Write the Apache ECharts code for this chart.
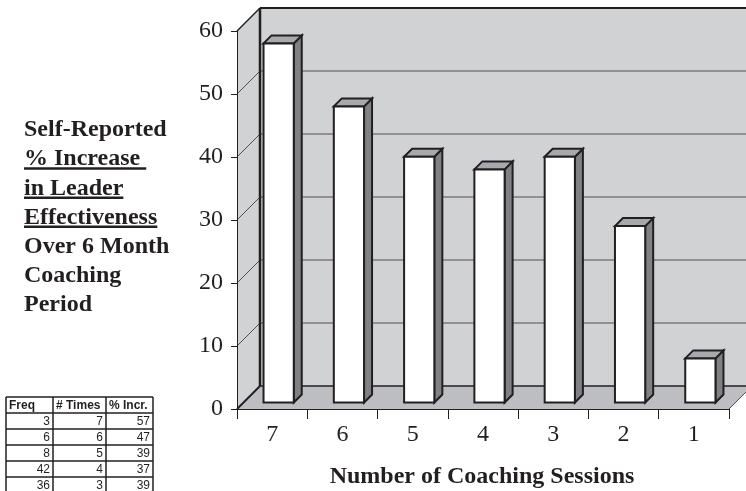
<!DOCTYPE html>
<html>
<head>
<meta charset="utf-8">
<script src="https://cdn.jsdelivr.net/npm/echarts@6/dist/echarts.min.js"></script>
<style>
html,body{margin:0;padding:0;background:#fff;}
#chart{width:746px;height:491px;}
</style>
</head>
<body>
<div id="chart"></div>
<script>
// ---- data ----
const categories = ['7', '6', '5', '4', '3', '2', '1'];
const increaseValues = [57, 47, 39, 37, 39, 28, 7];
const yMin = 0, yMax = 60, yInterval = 10;
const xAxisTitle = 'Number of Coaching Sessions';
const sideTitleLines = ['Self-Reported', '% Increase ', 'in Leader', 'Effectiveness', 'Over 6 Month', 'Coaching', 'Period'];
const underlinedLines = [1, 2, 3];
const tableHeader = ['Freq', '# Times', '% Incr.'];
const tableFreq = [3, 6, 8, 42, 36];
const tableTimes = [7, 6, 5, 4, 3];
const tableIncr = [57, 47, 39, 37, 39];

// ---- styles ----
const INK = '#231f20';
const WALL = '#d1d2d4';
const FLOOR = '#bdbec1';
const BAR_FRONT = '#ffffff';
const BAR_SIDE = '#808184';
const BAR_TOP = '#a7a9ac';
const DEPTH = 23;      // wall depth offset in px
const BAR_D1 = 6.5;    // front face depth
const BAR_D2 = 8;      // bar thickness (depth)
const SERIF = '"Liberation Serif", "Times New Roman", serif';

const chart = echarts.init(document.getElementById('chart'), null, {renderer: 'canvas'});

function measure(text, font) {
  const c = document.createElement('canvas').getContext('2d');
  c.font = font;
  return c.measureText(text).width;
}

// side title graphics
const graphics = [];
const titleFont = 'bold 24px ' + SERIF;
const titleX = 24, titleBase0 = 136, titleStep = 29.2;
sideTitleLines.forEach((t, i) => {
  const base = titleBase0 + i * titleStep;
  graphics.push({
    type: 'text', left: titleX, top: base - 18,
    style: {text: t, font: titleFont, fill: INK}
  });
  if (underlinedLines.indexOf(i) >= 0) {
    const w = measure(t, titleFont);
    graphics.push({
      type: 'rect', shape: {x: titleX, y: base + 2, width: w, height: 2.5},
      style: {fill: INK}
    });
  }
});

// x axis title
graphics.push({
  type: 'text', x: 482, y: 477,
  style: {text: xAxisTitle, font: titleFont, fill: INK, align: 'center', verticalAlign: 'middle'}
});

// data table
const colX = [6, 53, 106, 153];
const rowTop = 397, headH = 16, rowH = 16;
const tblChildren = [];
const nRows = tableFreq.length;
const tblBottom = rowTop + headH + rowH * nRows;
tblChildren.push({type: 'rect', shape: {x: colX[0], y: rowTop, width: colX[3] - colX[0], height: tblBottom - rowTop}, style: {fill: '#fff'}});
for (let r = 0; r <= nRows + 1; r++) {
  const y = r === 0 ? rowTop : rowTop + headH + rowH * (r - 1);
  tblChildren.push({type: 'line', shape: {x1: colX[0], y1: y, x2: colX[3], y2: y}, style: {stroke: INK, lineWidth: 1.5}});
}
colX.forEach(x => {
  tblChildren.push({type: 'line', shape: {x1: x, y1: rowTop, x2: x, y2: tblBottom}, style: {stroke: INK, lineWidth: 1.5}});
});
tableHeader.forEach((h, c) => {
  tblChildren.push({type: 'text', x: colX[c] + 3, y: rowTop + headH / 2 + 0.5,
    style: {text: h, font: 'bold 12px "Liberation Sans", Arial, sans-serif', fill: INK, verticalAlign: 'middle'}});
});
const cols = [tableFreq, tableTimes, tableIncr];
cols.forEach((arr, c) => {
  arr.forEach((v, r) => {
    tblChildren.push({type: 'text', x: colX[c + 1] - 3, y: rowTop + headH + rowH * r + rowH / 2 + 0.5,
      style: {text: String(v), font: '12px "Liberation Sans", Arial, sans-serif', fill: INK, align: 'right', verticalAlign: 'middle'}});
  });
});
graphics.push({type: 'group', children: tblChildren});

function renderBackdrop(params, api) {
  const cs = params.coordSys;
  const x0 = cs.x, x1 = cs.x + cs.width;
  const yb = api.coord([0, yMin])[1];
  const yt = api.coord([0, yMax])[1];
  const D = DEPTH;
  const ch = [];
  ch.push({type: 'polygon', shape: {points: [[x0 + D, yt - D], [x1 + D, yt - D], [x1 + D, yb - D], [x0 + D, yb - D]]}, style: {fill: WALL}});
  ch.push({type: 'polygon', shape: {points: [[x0, yb], [x0 + D, yb - D], [x0 + D, yt - D], [x0, yt]]}, style: {fill: WALL}});
  ch.push({type: 'polygon', shape: {points: [[x0, yb], [x0 + D, yb - D], [x1 + D, yb - D], [x1, yb]]}, style: {fill: FLOOR}});
  for (let v = yMin + yInterval; v < yMax; v += yInterval) {
    const y = api.coord([0, v])[1];
    ch.push({type: 'line', shape: {x1: x0 + D, y1: y - D, x2: x1 + D, y2: y - D}, style: {stroke: '#505052', lineWidth: 1}});
    ch.push({type: 'line', shape: {x1: x0, y1: y, x2: x0 + D, y2: y - D}, style: {stroke: '#505052', lineWidth: 1}});
  }
  ch.push({type: 'line', shape: {x1: x0 + D, y1: yt - D, x2: x1 + D, y2: yt - D}, style: {stroke: INK, lineWidth: 2}});
  ch.push({type: 'line', shape: {x1: x0 + D, y1: yt - D, x2: x0 + D, y2: yb - D}, style: {stroke: INK, lineWidth: 2.5}});
  ch.push({type: 'line', shape: {x1: x0 + D, y1: yb - D, x2: x1 + D, y2: yb - D}, style: {stroke: INK, lineWidth: 1.5}});
  ch.push({type: 'line', shape: {x1: x0, y1: yt, x2: x0 + D, y2: yt - D}, style: {stroke: INK, lineWidth: 1.5}});
  ch.push({type: 'line', shape: {x1: x0, y1: yb, x2: x0 + D, y2: yb - D}, style: {stroke: INK, lineWidth: 2}});
  ch.push({type: 'line', shape: {x1: x1, y1: yb, x2: x1 + D, y2: yb - D}, style: {stroke: '#505052', lineWidth: 1}});
  return {type: 'group', children: ch};
}

function renderBar(params, api) {
  const idx = api.value(0);
  const val = api.value(1);
  const base = api.coord([idx, yMin]);
  const top = api.coord([idx, val]);
  const band = api.size([1, 0])[0];
  const w = band * 0.43;
  const fx0 = base[0] - w / 2 + BAR_D1;
  const fx1 = fx0 + w;
  const fyb = base[1] - BAR_D1;
  const fyt = top[1] - BAR_D1;
  const d = BAR_D2;
  const st = {stroke: INK, lineWidth: 2, lineJoin: 'miter'};
  return {type: 'group', children: [
    {type: 'polygon', shape: {points: [[fx1, fyt], [fx1 + d, fyt - d], [fx1 + d, fyb - d], [fx1, fyb]]}, style: Object.assign({fill: BAR_SIDE}, st)},
    {type: 'polygon', shape: {points: [[fx0, fyt], [fx0 + d, fyt - d], [fx1 + d, fyt - d], [fx1, fyt]]}, style: Object.assign({fill: BAR_TOP}, st)},
    {type: 'rect', shape: {x: fx0, y: fyt, width: w, height: fyb - fyt}, style: Object.assign({fill: BAR_FRONT}, st)}
  ]};
}

const option = {
  backgroundColor: '#ffffff',
  animation: false,
  grid: {left: 237, right: 17, top: 31, bottom: 82, containLabel: false, outerBoundsMode: 'none'},
  xAxis: {
    type: 'category', data: categories, z: 5,
    axisLine: {show: true, lineStyle: {color: INK, width: 1}},
    axisTick: {show: true, alignWithLabel: false, length: 10, lineStyle: {color: INK, width: 1}},
    axisLabel: {fontSize: 24, fontFamily: SERIF, color: INK, margin: 14},
    splitLine: {show: false}
  },
  yAxis: {
    type: 'value', min: yMin, max: yMax, interval: yInterval, z: 5,
    axisLine: {show: true, lineStyle: {color: INK, width: 1}},
    axisTick: {show: true, length: 6, lineStyle: {color: INK, width: 1}},
    axisLabel: {fontSize: 24, fontFamily: SERIF, color: INK, margin: 14},
    splitLine: {show: false}
  },
  graphic: graphics,
  series: [
    {type: 'custom', name: 'backdrop', z: 1, silent: true, renderItem: renderBackdrop, data: [[0, 0]], clip: false},
    {type: 'custom', name: 'bars', z: 3, renderItem: renderBar, clip: false,
      encode: {x: 0, y: 1},
      data: increaseValues.map((v, i) => [i, v])}
  ]
};
chart.setOption(option);
</script>
</body>
</html>
